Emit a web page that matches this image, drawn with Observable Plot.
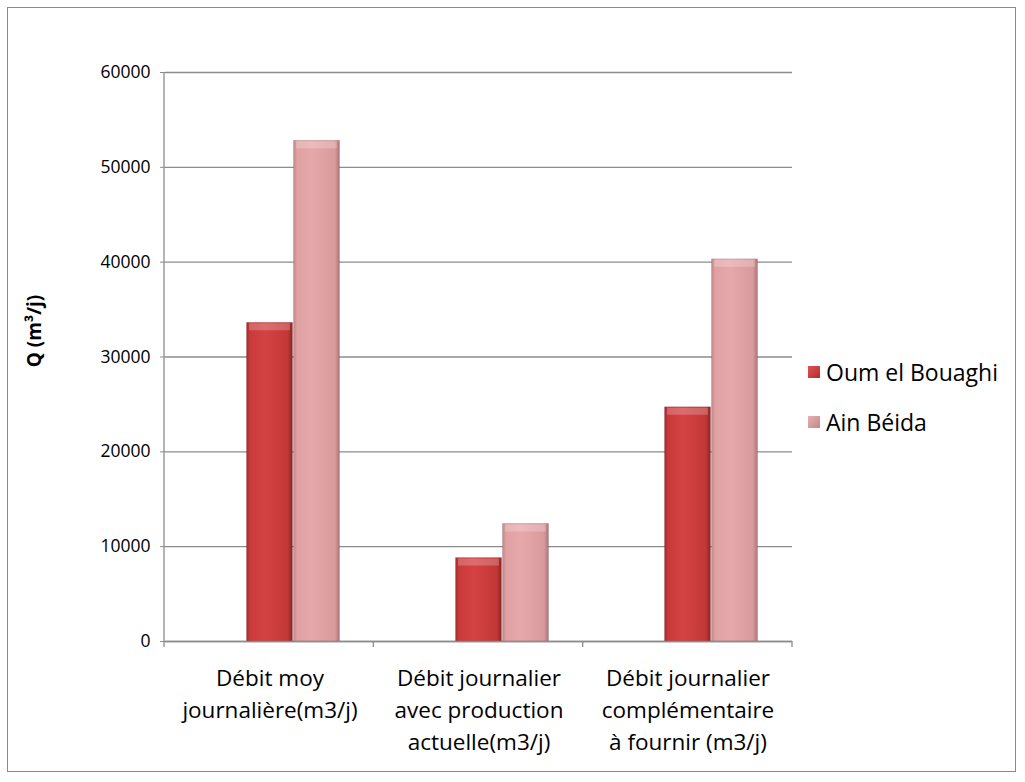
<!DOCTYPE html>
<html>
<head>
<meta charset="utf-8">
<script src="https://cdn.jsdelivr.net/npm/d3@7"></script>
<script src="https://cdn.jsdelivr.net/npm/@observablehq/plot@0.6"></script>
<style>
  html, body { margin: 0; padding: 0; background: #fff; }
  body { width: 1025px; height: 782px; position: relative; overflow: hidden; font-family: "Open Sans", Lato, sans-serif; }
  #frame { position: absolute; left: 7px; top: 7px; width: 1009px; height: 765px; border: 1px solid #8a8a8a; box-sizing: border-box; }
  #chart { position: absolute; left: 0; top: 0; }
  .leg { position: absolute; left: 808px; font-size: 23px; line-height: 30px; color: #000; display: flex; align-items: center; }
  .sw { width: 12px; height: 12px; margin-right: 6px; }
</style>
</head>
<body>
<div id="frame"></div>
<div id="chart"></div>
<div class="leg" style="top:357px"><div class="sw" style="background:linear-gradient(135deg,#e05252,#b52d2d)"></div>Oum el Bouaghi</div>
<div class="leg" style="top:407px"><div class="sw" style="background:linear-gradient(135deg,#eab1b3,#c08688)"></div>Ain Béida</div>
<script>
const categories = [
  "Débit moy\njournalière(m3/j)",
  "Débit journalier\navec production\nactuelle(m3/j)",
  "Débit journalier\ncomplémentaire\nà fournir (m3/j)"
];
const seriesNames = ["Oum el Bouaghi", "Ain Béida"];
const oumElBouaghi = [33600, 8800, 24700];
const ainBeida = [52800, 12400, 40300];
const yTicks = [0, 10000, 20000, 30000, 40000, 50000, 60000];
const yLabel = "Q (m³/j)";

const data = [];
categories.forEach((c, i) => {
  data.push({category: c, series: seriesNames[0], value: oumElBouaghi[i]});
  data.push({category: c, series: seriesNames[1], value: ainBeida[i]});
});

const defs = () => {
  const svg = d3.create("svg:defs");
  const mk = (id, stops) => {
    const g = svg.append("linearGradient").attr("id", id).attr("x1", 0).attr("x2", 1).attr("y1", 0).attr("y2", 0);
    stops.forEach(([o, c]) => g.append("stop").attr("offset", o).attr("stop-color", c));
  };
  mk("gRed", [[0, "#a82a2a"], [0.08, "#c93a3a"], [0.4, "#d44343"], [0.9, "#c23737"], [1, "#8f2222"]]);
  mk("gPink", [[0, "#c28789"], [0.08, "#e0a1a3"], [0.4, "#e6a8aa"], [0.9, "#d99a9c"], [1, "#b07476"]]);
  return svg.node();
};

const W = 1025, H = 782, mL = 164, mR = 233, mT = 72, mB = 141;
const fill = d => d.series === seriesNames[0] ? "url(#gRed)" : "url(#gPink)";

const plot = Plot.plot({
  width: W,
  height: H,
  marginLeft: mL,
  marginRight: mR,
  marginTop: mT,
  marginBottom: mB,
  style: {fontFamily: "'Open Sans', Lato, sans-serif", fontSize: "17px", color: "#000", background: "transparent"},
  fx: {domain: categories, padding: 0, label: null},
  x: {domain: seriesNames, paddingInner: 0, paddingOuter: 1.22, axis: null},
  y: {domain: [0, 60000], label: null},
  marks: [
    defs,
    Plot.gridY(yTicks, {stroke: "#8c8c8c", strokeOpacity: 1, strokeWidth: 1.3}),
    Plot.axisY(yTicks, {tickSize: 5, tickPadding: 10, tickFormat: d => String(d), stroke: "#8c8c8c", fontSize: 17.5}),
    Plot.barY(data, {fx: "category", x: "series", y: "value", fill, dx: 23, insetLeft: 0.5, insetRight: 0.5, stroke: "#00000022", strokeWidth: 0.8}),
    Plot.tickY(data, {fx: "category", x: "series", y: "value", dx: 23, dy: 4, inset: 3, stroke: "#ffffff", strokeOpacity: 0.22, strokeWidth: 7}),
    Plot.ruleY([0], {stroke: "#8c8c8c", strokeWidth: 1.3}),
    Plot.axisFx({anchor: "bottom", tickSize: 0, tickPadding: 22, lineHeight: 1.42, fontSize: 22.5, label: null})
  ]
});

// y axis line and category boundary ticks derived from the layout
const svg = d3.select(plot);
const innerW = W - mL - mR;
const g = svg.append("g").attr("stroke", "#8c8c8c").attr("stroke-width", 1.3);
g.append("line").attr("x1", mL).attr("x2", mL).attr("y1", mT).attr("y2", H - mB);
for (let i = 0; i <= categories.length; i++) {
  const x = mL + i * innerW / categories.length;
  g.append("line").attr("x1", x).attr("x2", x).attr("y1", H - mB).attr("y2", H - mB + 6);
}
// y-axis title
svg.append("text")
  .attr("transform", `translate(36, 331) rotate(-90)`)
  .attr("text-anchor", "middle")
  .attr("dominant-baseline", "middle")
  .attr("font-weight", "bold")
  .attr("font-size", 19)
  .text(yLabel);

document.getElementById("chart").appendChild(plot);
</script>
</body>
</html>
